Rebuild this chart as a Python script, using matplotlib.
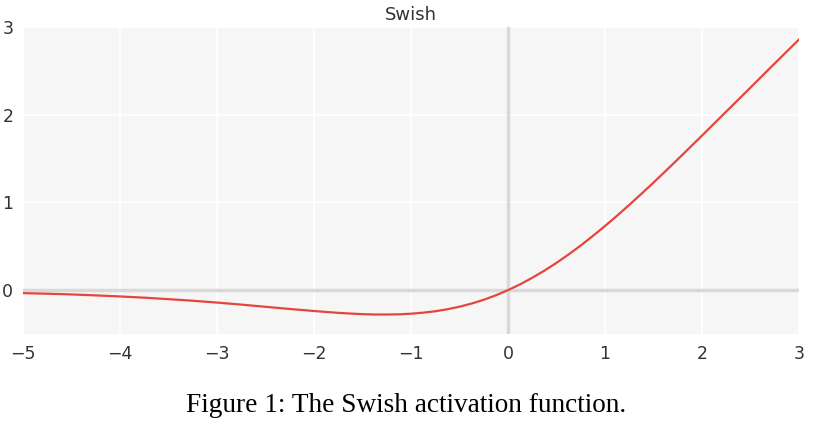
import matplotlib.pyplot as plt

# Valori (curva Swish)
x_vals = [-5.0, -4.75, -4.5, -4.25, -4.0, -3.75, -3.5, -3.25, -3.0, -2.75, -2.5,
          -2.25, -2.0, -1.875, -1.75, -1.625, -1.5, -1.375, -1.25, -1.125, -1.0,
          -0.875, -0.75, -0.625, -0.5, -0.375, -0.25, -0.125, 0.0,
          0.125, 0.25, 0.375, 0.5, 0.625, 0.75, 0.875, 1.0, 1.125, 1.25, 1.375,
          1.5, 1.75, 2.0, 2.25, 2.5, 2.75, 3.0]
y_vals = [-0.034, -0.041, -0.049, -0.060, -0.072, -0.086, -0.103, -0.121, -0.142,
          -0.165, -0.190, -0.215, -0.238, -0.249, -0.259, -0.267, -0.274, -0.278,
          -0.278, -0.276, -0.269, -0.257, -0.241, -0.218, -0.189, -0.153, -0.110,
          -0.059, 0.0, 0.066, 0.141, 0.222, 0.311, 0.407, 0.509, 0.618, 0.731,
          0.849, 0.972, 1.098, 1.226, 1.491, 1.762, 2.036, 2.310, 2.585, 2.858]
x_ticks = [-5, -4, -3, -2, -1, 0, 1, 2, 3]
y_ticks = [0, 1, 2, 3]
title = 'Swish'
caption = 'Figure 1: The Swish activation function.'

plt.rcParams['font.family'] = 'DejaVu Sans'

fig = plt.figure(figsize=(8.13, 4.24), dpi=100)
ax = fig.add_axes([0.0283, 0.2123, 0.9545, 0.724])
ax.set_facecolor('#f6f6f6')

# Griglia bianca e assi a zero
ax.grid(True, color='white', linewidth=1.2)
ax.set_axisbelow(True)
ax.axhline(0, color='#d9d9d9', linewidth=2.5, zorder=1)
ax.axvline(0, color='#d9d9d9', linewidth=2.5, zorder=1)

ax.plot(x_vals, y_vals, color='#e5463c', linewidth=1.6, zorder=3)

ax.set_xlim(-5, 3)
ax.set_ylim(-0.5, 3)
ax.set_xticks(x_ticks)
ax.set_yticks(y_ticks)
ax.set_xticklabels([str(t).replace('-', '\u2212') for t in x_ticks])
for s in ax.spines.values():
    s.set_visible(False)
ax.tick_params(length=0, labelsize=12.5, labelcolor='#333333')
ax.tick_params(axis='x', pad=8)
ax.tick_params(axis='y', pad=7)

ax.set_title(title, fontsize=13, color='#333333', pad=5)

fig.text(0.499, 0.043, caption, ha='center', va='center',
         fontsize=19.6, family='Liberation Serif')

fig.savefig('out.png', dpi=100)
